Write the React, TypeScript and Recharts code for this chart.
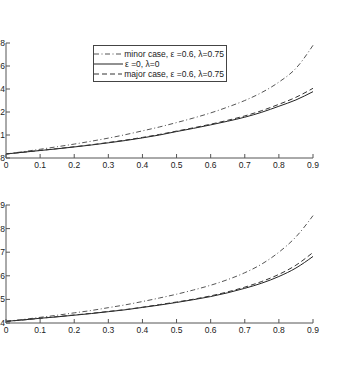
import React from 'react';
import { LineChart, Line, XAxis, YAxis, Legend } from 'recharts';

// x positions shared by both panels
const xs = [0, 0.05, 0.1, 0.15, 0.2, 0.25, 0.3, 0.35, 0.4, 0.45, 0.5, 0.55, 0.6, 0.65, 0.7, 0.75, 0.8, 0.85, 0.9];
const xTicks = [0, 0.1, 0.2, 0.3, 0.4, 0.5, 0.6, 0.7, 0.8, 0.9];

// upper panel
const topMinor = [0.835, 0.855, 0.876, 0.898, 0.921, 0.946, 0.973, 1.003, 1.036, 1.07, 1.108, 1.148, 1.192, 1.243, 1.3, 1.37, 1.46, 1.58, 1.78];
const topBase = [0.835, 0.85, 0.865, 0.88, 0.896, 0.913, 0.932, 0.952, 0.975, 1.0, 1.03, 1.058, 1.088, 1.12, 1.155, 1.198, 1.25, 1.305, 1.377];
const topMajor = [0.835, 0.85, 0.866, 0.881, 0.898, 0.915, 0.935, 0.956, 0.979, 1.005, 1.034, 1.063, 1.094, 1.128, 1.166, 1.212, 1.267, 1.328, 1.406];
const topYTicks = [0.8, 1, 1.2, 1.4, 1.6, 1.8];

// lower panel
const botMinor = [0.407, 0.415, 0.424, 0.433, 0.443, 0.453, 0.465, 0.477, 0.491, 0.506, 0.522, 0.54, 0.56, 0.584, 0.613, 0.65, 0.7, 0.765, 0.855];
const botBase = [0.407, 0.413, 0.42, 0.426, 0.433, 0.44, 0.448, 0.456, 0.466, 0.476, 0.487, 0.499, 0.512, 0.528, 0.547, 0.569, 0.597, 0.633, 0.682];
const botMajor = [0.407, 0.413, 0.42, 0.427, 0.434, 0.441, 0.449, 0.457, 0.467, 0.478, 0.489, 0.501, 0.515, 0.532, 0.552, 0.576, 0.606, 0.645, 0.699];
const botYTicks = [0.4, 0.5, 0.6, 0.7, 0.8, 0.9];

const seriesNames = ['minor case, ε =0.6, λ=0.75', 'ε =0, λ=0', 'major case, ε =0.6, λ=0.75'];
const seriesColors = ['#555', '#222', '#333'];
const seriesDash = ['5 2.5 1 2.5', undefined, '5 3'];

const AXIS = '#555';
const FONT = { fill: '#222', fontSize: 8.5 };

const buildRows = (a: number[], b: number[], c: number[]) =>
  xs.map((x, i) => ({ x, minor: a[i], base: b[i], major: c[i] }));

const topData = buildRows(topMinor, topBase, topMajor);
const botData = buildRows(botMinor, botBase, botMajor);

// legend keeps the series order (recharts would sort it by name)
const LegendBox = () => (
  <div
    style={{
      border: '1px solid #444',
      background: '#fff',
      padding: '3px 2px 2px 0',
      fontSize: 8.5,
      lineHeight: '10px',
      color: '#222',
      whiteSpace: 'nowrap',
    }}
  >
    {seriesNames.map((name, i) => (
      <div key={name} style={{ display: 'flex', alignItems: 'center', height: 10 }}>
        <svg width={29} height={10} style={{ marginRight: 2 }}>
          <line x1={0} y1={5} x2={29} y2={5} stroke={seriesColors[i]} strokeDasharray={seriesDash[i]} />
        </svg>
        <span>{name}</span>
      </div>
    ))}
  </div>
);

interface PanelProps {
  data: { x: number; minor: number; base: number; major: number }[];
  yTicks: number[];
  top: number;
  marginTop: number;
  plotBottom: number;
  withLegend?: boolean;
}

const Panel: React.FC<PanelProps> = ({ data, yTicks, top, marginTop, plotBottom, withLegend }) => {
  const domain: [number, number] = [yTicks[0], yTicks[yTicks.length - 1]];
  return (
    <div style={{ position: 'absolute', left: -34, top }}>
      <LineChart
        width={357}
        height={plotBottom - top + 20}
        data={data}
        margin={{ top: marginTop, right: 10, left: 0, bottom: 0 }}
      >
        <XAxis
          xAxisId="b"
          dataKey="x"
          type="number"
          domain={[0, 0.9]}
          ticks={xTicks}
          height={20}
          tickSize={-4}
          tickMargin={8}
          stroke={AXIS}
          tick={FONT}
        />
        <XAxis
          xAxisId="t"
          orientation="top"
          dataKey="x"
          type="number"
          domain={[0, 0.9]}
          ticks={xTicks}
          height={0}
          tickSize={-4}
          stroke={AXIS}
          tickFormatter={() => ''}
        />
        <YAxis
          yAxisId="l"
          type="number"
          domain={domain}
          ticks={yTicks}
          width={40}
          tickSize={-4}
          tickMargin={5}
          stroke={AXIS}
          tick={FONT}
        />
        <YAxis
          yAxisId="r"
          orientation="right"
          type="number"
          domain={domain}
          ticks={yTicks}
          width={0}
          tickSize={-4}
          stroke={AXIS}
          tickFormatter={() => ''}
        />
        {withLegend && (
          <Legend
            layout="vertical"
            align="center"
            verticalAlign="middle"
            wrapperStyle={{ left: 127, top: 45, width: 134 }}
            content={LegendBox}
          />
        )}
        {(['minor', 'base', 'major'] as const).map((key, i) => (
          <Line
            key={key}
            xAxisId="b"
            yAxisId="l"
            type="monotone"
            dataKey={key}
            name={seriesNames[i]}
            stroke={seriesColors[i]}
            strokeDasharray={seriesDash[i]}
            strokeWidth={1}
            dot={false}
            isAnimationActive={false}
          />
        ))}
      </LineChart>
    </div>
  );
};

export default function App() {
  return (
    <div
      style={{
        position: 'absolute',
        left: 0,
        top: 0,
        width: 351,
        height: 367,
        overflow: 'hidden',
        background: '#fff',
        fontFamily: '"Liberation Sans", Arial, sans-serif',
      }}
    >
      <Panel data={topData} yTicks={topYTicks} top={0} marginTop={43} plotBottom={158} withLegend />
      <Panel data={botData} yTicks={botYTicks} top={190} marginTop={15} plotBottom={323} />
    </div>
  );
}
